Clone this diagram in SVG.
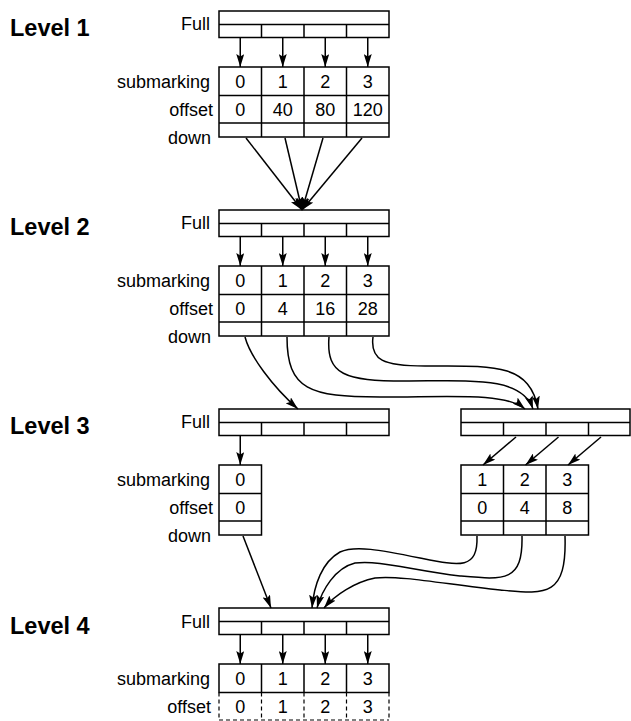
<svg xmlns="http://www.w3.org/2000/svg" width="631" height="721" viewBox="0 0 631 721">
<defs>
<marker id="ah" viewBox="0 0 13 8" markerWidth="13" markerHeight="8" refX="13" refY="4" orient="auto" markerUnits="userSpaceOnUse">
<path d="M0,0 L13,4 L0,8 L2.5,4 z" fill="#000"/>
</marker>
<style>
.box{fill:#fff;stroke:#000;stroke-width:1.5}
.ln{fill:none;stroke:#000;stroke-width:1.5}
.dash{fill:none;stroke:#000;stroke-width:1.2;stroke-dasharray:4 3}
.con{fill:none;stroke:#000;stroke-width:1.5;marker-end:url(#ah)}
.lbl{font-family:"Liberation Sans",Arial,Helvetica,sans-serif;font-size:18px;fill:#000;text-anchor:end}
.val{font-family:"Liberation Sans",Arial,Helvetica,sans-serif;font-size:18px;fill:#000;text-anchor:middle}
.lvl{font-family:"Liberation Sans",Arial,Helvetica,sans-serif;font-size:23.5px;font-weight:bold;fill:#000}
</style>
</defs>
<rect width="631" height="721" fill="#fff"/>

<!-- Level titles -->
<text class="lvl" x="10" y="36">Level 1</text>
<text class="lvl" x="10" y="235">Level 2</text>
<text class="lvl" x="10" y="434">Level 3</text>
<text class="lvl" x="10" y="634">Level 4</text>

<!-- Level 1 Full -->
<g id="l1-full">
<text class="lbl" x="210" y="30">Full</text>
<rect class="box" x="219" y="11" width="170" height="26.5"/>
<path class="ln" d="M219,24.5H389M261.5,24.5V37.5M304,24.5V37.5M346.5,24.5V37.5"/>
</g>
<!-- Level 1 table -->
<g id="l1-table">
<text class="lbl" x="210" y="88">submarking</text>
<text class="lbl" x="213" y="116">offset</text>
<text class="lbl" x="211" y="144">down</text>
<rect class="box" x="219" y="67" width="170" height="70"/>
<path class="ln" d="M219,95.5H389M219,123H389M261.5,67V137M304,67V137M346.5,67V137"/>
<text class="val" x="240.25" y="88">0</text>
<text class="val" x="282.75" y="88">1</text>
<text class="val" x="325.25" y="88">2</text>
<text class="val" x="367.75" y="88">3</text>
<text class="val" x="240.25" y="116">0</text>
<text class="val" x="282.75" y="116">40</text>
<text class="val" x="325.25" y="116">80</text>
<text class="val" x="367.75" y="116">120</text>
</g>

<!-- Level 2 Full -->
<g id="l2-full">
<text class="lbl" x="210" y="229">Full</text>
<rect class="box" x="219" y="210" width="170" height="26.5"/>
<path class="ln" d="M219,223.5H389M261.5,223.5V236.5M304,223.5V236.5M346.5,223.5V236.5"/>
</g>
<!-- Level 2 table -->
<g id="l2-table">
<text class="lbl" x="210" y="287">submarking</text>
<text class="lbl" x="213" y="315">offset</text>
<text class="lbl" x="211" y="343">down</text>
<rect class="box" x="219" y="266" width="170" height="70"/>
<path class="ln" d="M219,294.5H389M219,322H389M261.5,266V336M304,266V336M346.5,266V336"/>
<text class="val" x="240.25" y="287">0</text>
<text class="val" x="282.75" y="287">1</text>
<text class="val" x="325.25" y="287">2</text>
<text class="val" x="367.75" y="287">3</text>
<text class="val" x="240.25" y="315">0</text>
<text class="val" x="282.75" y="315">4</text>
<text class="val" x="325.25" y="315">16</text>
<text class="val" x="367.75" y="315">28</text>
</g>

<!-- Level 3 left Full -->
<g id="l3-full-left">
<text class="lbl" x="210" y="428">Full</text>
<rect class="box" x="219" y="409" width="170" height="26.5"/>
<path class="ln" d="M219,422.5H389M261.5,422.5V435.5M304,422.5V435.5M346.5,422.5V435.5"/>
</g>
<!-- Level 3 left table -->
<g id="l3-table-left">
<text class="lbl" x="210" y="486">submarking</text>
<text class="lbl" x="213" y="514">offset</text>
<text class="lbl" x="211" y="542">down</text>
<rect class="box" x="219" y="465" width="42.5" height="70"/>
<path class="ln" d="M219,493.5H261.5M219,521H261.5"/>
<text class="val" x="240.25" y="486">0</text>
<text class="val" x="240.25" y="514">0</text>
</g>
<!-- Level 3 right Full -->
<g id="l3-full-right">
<rect class="box" x="461" y="409" width="169" height="26.5"/>
<path class="ln" d="M461,422.5H630M503.5,422.5V435.5M546,422.5V435.5M588.5,422.5V435.5"/>
</g>
<!-- Level 3 right table -->
<g id="l3-table-right">
<rect class="box" x="461" y="465" width="127.5" height="70"/>
<path class="ln" d="M461,493.5H588.5M461,521H588.5M503.5,465V535M546,465V535"/>
<text class="val" x="482.25" y="486">1</text>
<text class="val" x="524.75" y="486">2</text>
<text class="val" x="567.25" y="486">3</text>
<text class="val" x="482.25" y="514">0</text>
<text class="val" x="524.75" y="514">4</text>
<text class="val" x="567.25" y="514">8</text>
</g>

<!-- Level 4 Full -->
<g id="l4-full">
<text class="lbl" x="210" y="628">Full</text>
<rect class="box" x="219" y="608" width="170" height="26.5"/>
<path class="ln" d="M219,621.5H389M261.5,621.5V634.5M304,621.5V634.5M346.5,621.5V634.5"/>
</g>
<!-- Level 4 table -->
<g id="l4-table">
<text class="lbl" x="210" y="685">submarking</text>
<text class="lbl" x="211" y="713">offset</text>
<rect class="box" x="219" y="664" width="170" height="28.5"/>
<path class="ln" d="M261.5,664V692.5M304,664V692.5M346.5,664V692.5"/>
<path class="dash" d="M219,692.5V720M261.5,692.5V720M304,692.5V720M346.5,692.5V720M389,692.5V720"/>
<path class="dash" d="M219,720H389" stroke="#888"/>
<text class="val" x="240.25" y="685">0</text>
<text class="val" x="282.75" y="685">1</text>
<text class="val" x="325.25" y="685">2</text>
<text class="val" x="367.75" y="685">3</text>
<text class="val" x="240.25" y="713">0</text>
<text class="val" x="282.75" y="713">1</text>
<text class="val" x="325.25" y="713">2</text>
<text class="val" x="367.75" y="713">3</text>
</g>

<!-- Connectors -->
<g id="connectors">
<!-- Level 1 Full to table -->
<path class="con" d="M240.25,38V67"/>
<path class="con" d="M282.75,38V67"/>
<path class="con" d="M325.25,38V67"/>
<path class="con" d="M367.75,38V67"/>
<!-- Level 1 down to Level 2 Full -->
<path class="con" d="M246,138L302,210"/>
<path class="con" d="M285,138L302,210"/>
<path class="con" d="M323,138L302,210"/>
<path class="con" d="M362,138L302,210"/>
<!-- Level 2 Full to table -->
<path class="con" d="M240.25,237V266"/>
<path class="con" d="M282.75,237V266"/>
<path class="con" d="M325.25,237V266"/>
<path class="con" d="M367.75,237V266"/>
<!-- Level 2 down to Level 3 -->
<path class="con" d="M245,337C250,356 272,386 298,409"/>
<path class="con" d="M287,337C287,390 310,397 380,397C450,397 505,392 525,409"/>
<path class="con" d="M329,337C326,375 345,381 405,381C470,381 522,376 533,409"/>
<path class="con" d="M373,337C370,360 383,366 425,366C490,366 530,362 538,409"/>
<!-- Level 3 Full to tables -->
<path class="con" d="M240.25,436V465"/>
<path class="con" d="M516,437L483,465"/>
<path class="con" d="M558.5,437L525.5,465"/>
<path class="con" d="M601,437L568,465"/>
<!-- Level 3 down to Level 4 Full -->
<path class="con" d="M243,536L271,608"/>
<path class="con" d="M477,536C478,570 460,566 420,558C380,550 355,545 340,552C322,562 314,585 312,608"/>
<path class="con" d="M522,536C523,582 505,580 460,576C410,570 380,560 355,563C335,568 322,590 317,608"/>
<path class="con" d="M565,536C567,598 545,594 500,590C450,585 400,575 375,578C355,582 335,595 324,608"/>
<!-- Level 4 Full to table -->
<path class="con" d="M240.25,635V664"/>
<path class="con" d="M282.75,635V664"/>
<path class="con" d="M325.25,635V664"/>
<path class="con" d="M367.75,635V664"/>
</g>
</svg>
